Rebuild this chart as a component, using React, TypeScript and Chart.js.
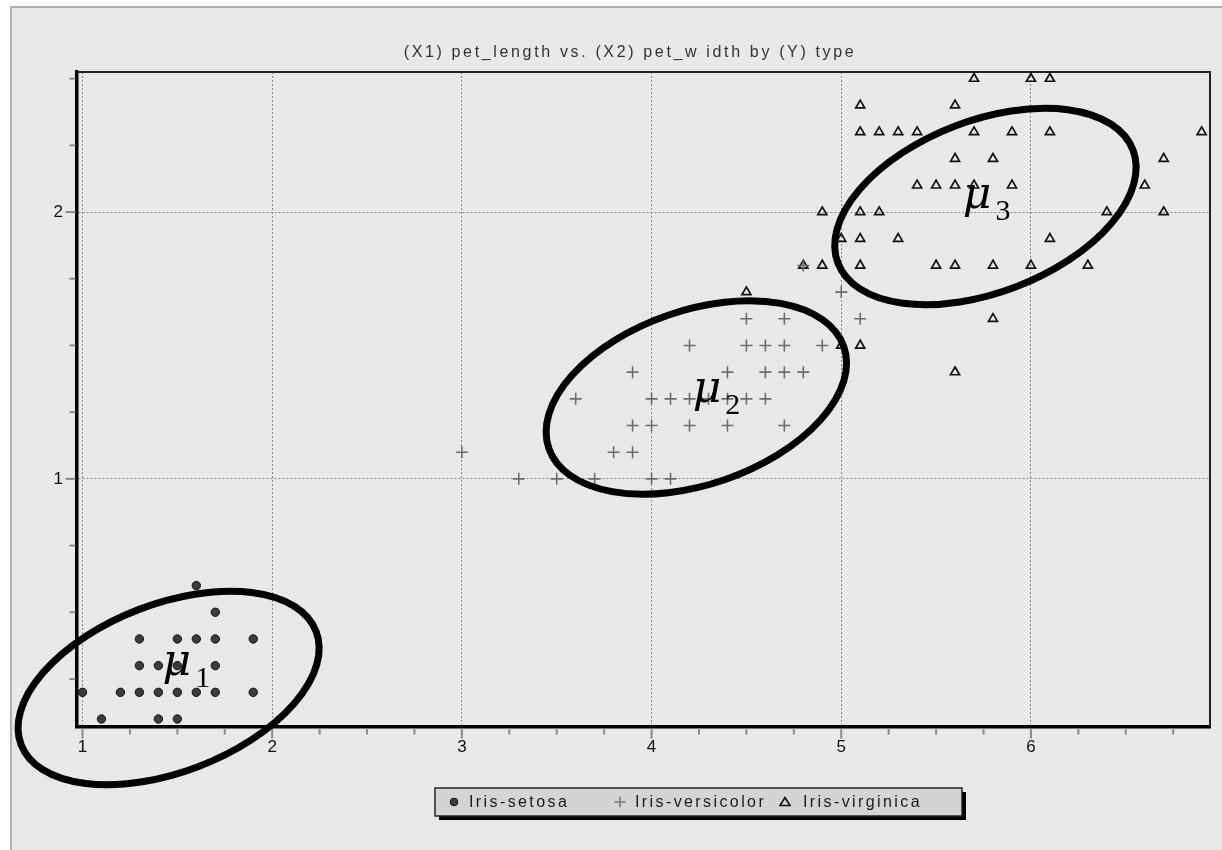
import React, { useEffect, useRef } from 'react';
import { Chart, registerables } from 'chart.js';

Chart.register(...registerables);

// ---------- data ----------
const chartTitle = '(X1) pet_length vs. (X2) pet_w idth by (Y) type';
const seriesLabels = ['Iris-setosa', 'Iris-versicolor', 'Iris-virginica'];

const setosaPetLength = [1.1, 1.4, 1.5, 1.0, 1.2, 1.3, 1.4, 1.5, 1.6, 1.7, 1.9, 1.3, 1.4, 1.5, 1.7, 1.3, 1.5, 1.6, 1.7, 1.9, 1.7, 1.6];
const setosaPetWidth = [0.1, 0.1, 0.1, 0.2, 0.2, 0.2, 0.2, 0.2, 0.2, 0.2, 0.2, 0.3, 0.3, 0.3, 0.3, 0.4, 0.4, 0.4, 0.4, 0.4, 0.5, 0.6];

const versicolorPetLength = [3.3, 3.5, 3.7, 4.0, 4.1, 3.0, 3.8, 3.9, 3.9, 4.0, 4.2, 4.4, 4.7, 3.6, 4.0, 4.1, 4.2, 4.3, 4.4, 4.5, 4.6, 3.9, 4.4, 4.6, 4.7, 4.8, 4.2, 4.5, 4.6, 4.7, 4.9, 4.5, 4.7, 5.1, 5.0, 4.8];
const versicolorPetWidth = [1.0, 1.0, 1.0, 1.0, 1.0, 1.1, 1.1, 1.1, 1.2, 1.2, 1.2, 1.2, 1.2, 1.3, 1.3, 1.3, 1.3, 1.3, 1.3, 1.3, 1.3, 1.4, 1.4, 1.4, 1.4, 1.4, 1.5, 1.5, 1.5, 1.5, 1.5, 1.6, 1.6, 1.6, 1.7, 1.8];

const virginicaPetLength = [5.6, 5.0, 5.1, 5.8, 4.5, 4.8, 4.9, 5.1, 5.5, 5.6, 5.8, 6.0, 6.3, 5.0, 5.1, 5.3, 6.1, 4.9, 5.1, 5.2, 6.4, 6.7, 5.4, 5.5, 5.6, 5.7, 5.9, 6.6, 5.6, 5.8, 6.7, 5.1, 5.2, 5.3, 5.4, 5.7, 5.9, 6.1, 6.9, 5.1, 5.6, 5.7, 6.0, 6.1];
const virginicaPetWidth = [1.4, 1.5, 1.5, 1.6, 1.7, 1.8, 1.8, 1.8, 1.8, 1.8, 1.8, 1.8, 1.8, 1.9, 1.9, 1.9, 1.9, 2.0, 2.0, 2.0, 2.0, 2.0, 2.1, 2.1, 2.1, 2.1, 2.1, 2.1, 2.2, 2.2, 2.2, 2.3, 2.3, 2.3, 2.3, 2.3, 2.3, 2.3, 2.3, 2.4, 2.4, 2.5, 2.5, 2.5];

const xMajorTicks = [1, 2, 3, 4, 5, 6];
const yMajorTicks = [1, 2];
const xAxisRange = [0.971, 6.944];
const yAxisRange = [0.07, 2.525];

// cluster annotations (data coordinates)
const clusterNames = ['1', '2', '3'];
const clusterCenterX = [1.454, 4.236, 5.76];
const clusterCenterY = [0.216, 1.305, 2.021];
const clusterLabelX = [1.422, 4.217, 5.641];
const clusterLabelY = [0.265, 1.288, 2.015];

// ---------- styles ----------
const ELLIPSE_SHAPES = [
  { a: 158, b: 84, angle: 21 },
  { a: 156, b: 87, angle: 19 },
  { a: 158, b: 86, angle: 21 },
];
const FONT = "'Liberation Sans', Arial, sans-serif";
const SERIF = "'Liberation Serif', 'Times New Roman', serif";
const MU_FONT = "'DejaVu Serif', 'Liberation Serif', serif";

const toPoints = (xs: number[], ys: number[]) => xs.map((x, i) => ({ x, y: ys[i] }));
const isMajor = (v: number, majors: number[]) => majors.some((m) => Math.abs(m - v) < 1e-6);

const titlePlugin = {
  id: 'plainTitle',
  afterDraw(chart: any) {
    const { ctx } = chart;
    ctx.save();
    ctx.letterSpacing = '2.65px';
    ctx.font = `16px ${FONT}`;
    ctx.fillStyle = '#333';
    ctx.textAlign = 'center';
    ctx.textBaseline = 'middle';
    ctx.fillText(chartTitle, 630, 53);
    ctx.restore();
  },
};

const framePlugin = {
  id: 'frame',
  beforeDatasetsDraw(chart: any) {
    const { ctx, chartArea, scales } = chart;
    ctx.save();
    ctx.setLineDash([]);
    ctx.strokeStyle = '#222';
    ctx.lineWidth = 2;
    ctx.beginPath();
    ctx.moveTo(chartArea.left, chartArea.top);
    ctx.lineTo(chartArea.right, chartArea.top);
    ctx.lineTo(chartArea.right, chartArea.bottom);
    ctx.stroke();
    ctx.strokeStyle = '#8a8a8a';
    ctx.lineWidth = 2;
    const xs = scales.x;
    const ys = scales.y;
    xs.ticks.forEach((t: any) => {
      const px = xs.getPixelForValue(t.value);
      const len = isMajor(t.value, xMajorTicks) ? 10 : 6;
      ctx.beginPath();
      ctx.moveTo(px, chartArea.bottom + 1.5);
      ctx.lineTo(px, chartArea.bottom + 1.5 + len);
      ctx.stroke();
    });
    ys.ticks.forEach((t: any) => {
      const py = ys.getPixelForValue(t.value);
      const len = isMajor(t.value, yMajorTicks) ? 10 : 6;
      ctx.beginPath();
      ctx.moveTo(chartArea.left - 1.5, py);
      ctx.lineTo(chartArea.left - 1.5 - len, py);
      ctx.stroke();
    });
    ctx.restore();
  },
};

const ellipsePlugin = {
  id: 'clusters',
  afterDatasetsDraw(chart: any) {
    const { ctx, scales } = chart;
    ctx.save();
    ctx.setLineDash([]);
    clusterNames.forEach((name, i) => {
      const cx = scales.x.getPixelForValue(clusterCenterX[i]);
      const cy = scales.y.getPixelForValue(clusterCenterY[i]);
      const s = ELLIPSE_SHAPES[i];
      ctx.beginPath();
      ctx.ellipse(cx, cy, s.a, s.b, (-s.angle * Math.PI) / 180, 0, Math.PI * 2);
      ctx.strokeStyle = '#000';
      ctx.lineWidth = 7;
      ctx.stroke();
      const lx = scales.x.getPixelForValue(clusterLabelX[i]);
      const ly = scales.y.getPixelForValue(clusterLabelY[i]);
      ctx.fillStyle = '#000';
      ctx.textAlign = 'left';
      ctx.textBaseline = 'alphabetic';
      ctx.font = `italic 44px ${MU_FONT}`;
      ctx.fillText('μ', lx, ly);
      const w = ctx.measureText('μ').width;
      ctx.font = `30px ${SERIF}`;
      ctx.fillText(name, lx + w + 4, ly + 12);
    });
    ctx.restore();
  },
};

const legendPlugin = {
  id: 'boxLegend',
  afterDraw(chart: any) {
    const { ctx } = chart;
    const box = { left: 435, top: 788, right: 962, bottom: 816 };
    ctx.save();
    ctx.setLineDash([]);
    ctx.fillStyle = '#000';
    ctx.fillRect(box.left + 4, box.top + 4, box.right - box.left, box.bottom - box.top);
    ctx.fillStyle = '#d4d4d4';
    ctx.fillRect(box.left, box.top, box.right - box.left, box.bottom - box.top);
    ctx.strokeStyle = '#222';
    ctx.lineWidth = 1.5;
    ctx.strokeRect(box.left, box.top, box.right - box.left, box.bottom - box.top);
    const cy = (box.top + box.bottom) / 2;
    const items = [
      { sym: 454, text: 469 },
      { sym: 620, text: 635 },
      { sym: 785, text: 803 },
    ];
    items.forEach((it, i) => {
      ctx.beginPath();
      if (i === 0) {
        ctx.arc(it.sym, cy, 3.8, 0, Math.PI * 2);
        ctx.fillStyle = '#3c3c3c';
        ctx.fill();
        ctx.strokeStyle = '#111';
        ctx.lineWidth = 1;
        ctx.stroke();
      } else if (i === 1) {
        ctx.moveTo(it.sym - 5.5, cy);
        ctx.lineTo(it.sym + 5.5, cy);
        ctx.moveTo(it.sym, cy - 5.5);
        ctx.lineTo(it.sym, cy + 5.5);
        ctx.strokeStyle = '#777';
        ctx.lineWidth = 1.5;
        ctx.stroke();
      } else {
        ctx.moveTo(it.sym, cy - 4.5);
        ctx.lineTo(it.sym + 5, cy + 3.5);
        ctx.lineTo(it.sym - 5, cy + 3.5);
        ctx.closePath();
        ctx.strokeStyle = '#111';
        ctx.lineWidth = 1.6;
        ctx.stroke();
      }
      ctx.letterSpacing = '2.4px';
      ctx.font = `16px ${FONT}`;
      ctx.fillStyle = '#1a1a1a';
      ctx.textAlign = 'left';
      ctx.textBaseline = 'middle';
      ctx.fillText(seriesLabels[i], it.text, cy + 1);
    });
    ctx.restore();
  },
};

export default function App() {
  const canvasRef = useRef<HTMLCanvasElement | null>(null);

  useEffect(() => {
    if (!canvasRef.current) return;
    const gridColor = (majors: number[]) => (c: any) =>
      c.tick && isMajor(c.tick.value, majors) ? '#888888' : 'rgba(0,0,0,0)';

    const chart = new Chart(canvasRef.current, {
      type: 'scatter',
      data: {
        datasets: [
          {
            label: seriesLabels[0],
            data: toPoints(setosaPetLength, setosaPetWidth),
            pointStyle: 'circle',
            pointRadius: 4.2,
            backgroundColor: '#3c3c3c',
            borderColor: '#111',
            borderWidth: 1,
          },
          {
            label: seriesLabels[1],
            data: toPoints(versicolorPetLength, versicolorPetWidth),
            pointStyle: 'cross',
            pointRadius: 6,
            backgroundColor: 'rgba(0,0,0,0)',
            borderColor: '#6c6c6c',
            borderWidth: 1.6,
          },
          {
            label: seriesLabels[2],
            data: toPoints(virginicaPetLength, virginicaPetWidth),
            pointStyle: 'triangle',
            pointRadius: 5.2,
            backgroundColor: 'rgba(0,0,0,0)',
            borderColor: '#111',
            borderWidth: 1.7,
          },
        ],
      },
      options: {
        responsive: false,
        animation: false,
        devicePixelRatio: 1,
        events: [],
        layout: { padding: { left: 0, right: 12, top: 72, bottom: 93 } },
        plugins: {
          legend: { display: false },
          tooltip: { enabled: false },
          title: { display: false },
        },
        scales: {
          x: {
            type: 'linear',
            min: xAxisRange[0],
            max: xAxisRange[1],
            afterFit: (s: any) => {
              s.height = 30;
            },
            ticks: {
              stepSize: 0.25,
              maxTicksLimit: 200,
              includeBounds: false,
              autoSkip: false,
              maxRotation: 0,
              padding: 10,
              color: '#111',
              font: { family: FONT, size: 17 },
              callback: (v: any) => {
                const n = Number(v);
                return isMajor(n, xMajorTicks) ? String(Math.round(n)) : '';
              },
            },
            grid: { drawTicks: false, color: gridColor(xMajorTicks), lineWidth: 1 },
            border: { display: true, color: '#000', width: 3.5, dash: [2, 2] },
          },
          y: {
            type: 'linear',
            min: yAxisRange[0],
            max: yAxisRange[1],
            afterFit: (s: any) => {
              s.width = 77;
            },
            ticks: {
              stepSize: 0.25,
              maxTicksLimit: 200,
              includeBounds: false,
              autoSkip: false,
              padding: 14,
              color: '#111',
              font: { family: FONT, size: 17 },
              callback: (v: any) => {
                const n = Number(v);
                return isMajor(n, yMajorTicks) ? String(Math.round(n)) : '';
              },
            },
            grid: { drawTicks: false, color: gridColor(yMajorTicks), lineWidth: 1 },
            border: { display: true, color: '#000', width: 3.5, dash: [2, 2] },
          },
        },
      } as any,
      plugins: [framePlugin, ellipsePlugin, titlePlugin, legendPlugin],
    });
    return () => chart.destroy();
  }, []);

  return (
    <div
      style={{
        position: 'fixed',
        left: 0,
        top: 0,
        width: 1222,
        height: 850,
        background: '#ffffff',
        overflow: 'hidden',
      }}
    >
      <div
        style={{
          position: 'absolute',
          left: 10,
          top: 6,
          right: 0,
          bottom: 0,
          background: '#e8e8e8',
          borderLeft: '2px solid #b0b0b0',
          borderTop: '2px solid #b0b0b0',
        }}
      />
      <canvas
        ref={canvasRef}
        width={1222}
        height={850}
        style={{ position: 'absolute', left: 0, top: 0, width: 1222, height: 850 }}
      />
    </div>
  );
}
